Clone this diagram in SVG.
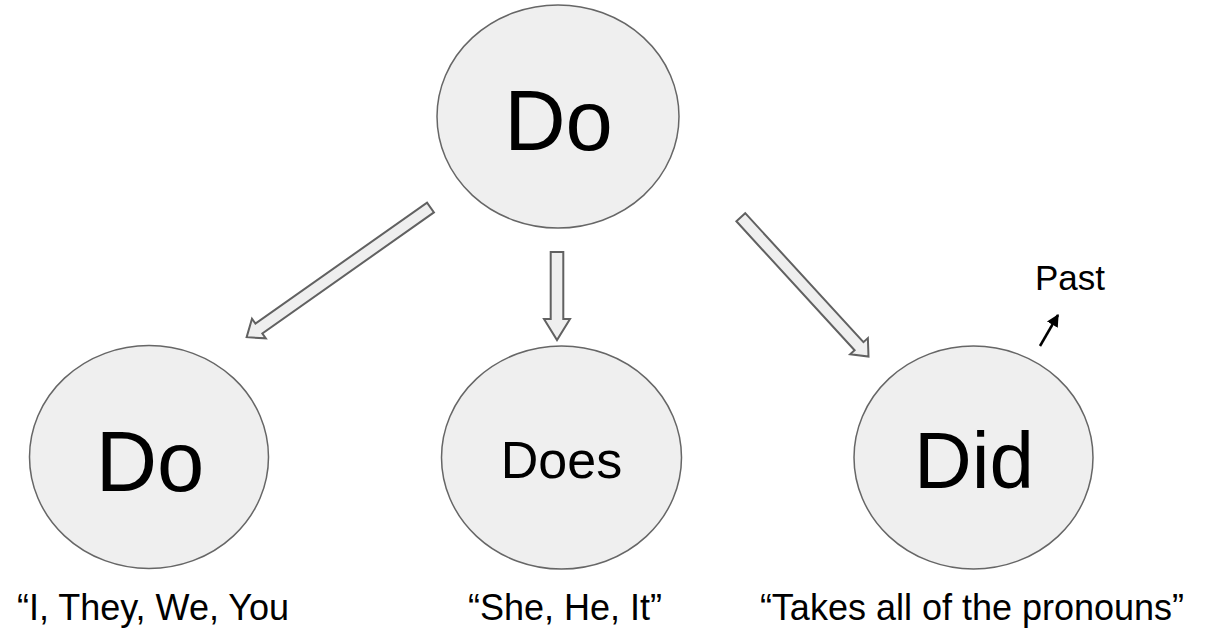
<svg xmlns="http://www.w3.org/2000/svg" width="1207" height="632" viewBox="0 0 1207 632">
  <defs>
    <style>
      .node { fill: #efefef; stroke: #666666; stroke-width: 1.5; }
      .blk { fill: #efefef; stroke: #616161; stroke-width: 2; stroke-linejoin: miter; }
      text { font-family: "Liberation Sans", Arial, sans-serif; fill: #000000; text-anchor: middle; }
      .big { font-size: 85px; }
      .lbl { font-size: 36px; }
    </style>
    <marker id="ah" viewBox="0 0 10 10" refX="9" refY="5" markerWidth="5" markerHeight="5" orient="auto" markerUnits="strokeWidth">
      <path d="M0,0 L10,5 L0,10 z" fill="#000000"/>
    </marker>
  </defs>
  <rect width="1207" height="632" fill="#ffffff"/>

  <g id="connectors">
    <polygon class="blk" transform="translate(430.5,207.5) rotate(144.8)" points="0,-6 210,-6 210,-12 225,0 210,12 210,6 0,6"/>
    <polygon class="blk" transform="translate(557,252) rotate(90)" points="0,-6.3 67,-6.3 67,-13 88,0 67,13 67,6.3 0,6.3"/>
    <polygon class="blk" transform="translate(740.8,217.2) rotate(47.5)" points="0,-6 175,-6 175,-12 189,0 175,12 175,6 0,6"/>
    <line x1="1040" y1="346" x2="1058" y2="315" stroke="#000000" stroke-width="2.5" marker-end="url(#ah)"/>
  </g>

  <g id="node-do-top">
    <ellipse class="node" cx="558" cy="116.5" rx="121" ry="111.5"/>
    <text class="big" x="558.5" y="150">Do</text>
  </g>

  <g id="node-do">
    <ellipse class="node" cx="149" cy="457" rx="119.5" ry="111.5"/>
    <text class="big" x="150" y="491">Do</text>
    <text class="lbl" x="153" y="620">“I, They, We, You</text>
  </g>

  <g id="node-does">
    <ellipse class="node" cx="561.5" cy="457.5" rx="120" ry="111.5"/>
    <text x="561.5" y="478" font-size="52">Does</text>
    <text class="lbl" x="565" y="620">“She, He, It”</text>
  </g>

  <g id="node-did">
    <ellipse class="node" cx="973.5" cy="457.5" rx="119.5" ry="111.5"/>
    <text x="974" y="488" font-size="80">Did</text>
    <text class="lbl" x="972" y="620">“Takes all of the pronouns”</text>
  </g>

  <g id="label-past">
    <text x="1070" y="290" font-size="35">Past</text>
  </g>
</svg>
